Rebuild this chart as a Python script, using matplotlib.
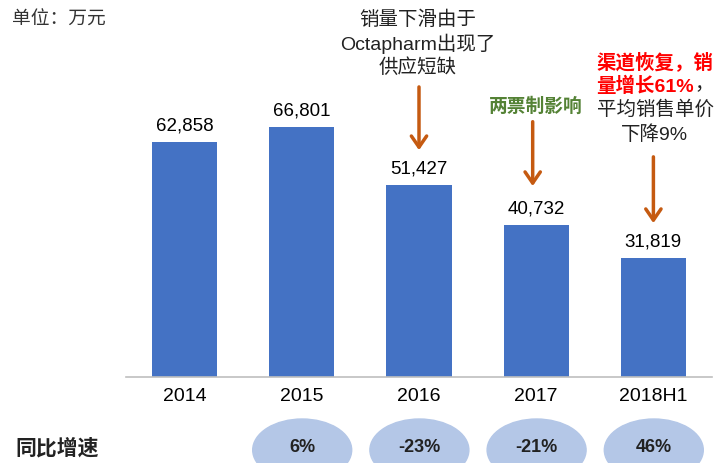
import matplotlib.pyplot as plt
from matplotlib.patches import Ellipse

plt.rcParams['font.family'] = ['Liberation Sans', 'Noto Sans CJK SC']

years = ["2014", "2015", "2016", "2017", "2018H1"]
sales = [62858, 66801, 51427, 40732, 31819]
growth = ["", "6%", "-23%", "-21%", "46%"]

W, H = 718, 464
fig = plt.figure(figsize=(W / 100, H / 100), dpi=100)
ax = fig.add_axes([126 / W, (H - 378) / H, 586 / W, 378 / H])

x = range(len(years))
ax.bar(x, sales, width=0.555, color="#4472c4")
for i, v in enumerate(sales):
    ax.text(i, v + 2200, f"{v:,}", ha="center", va="bottom", fontsize=13.5)

ax.set_xlim(-0.5, 4.5)
ax.set_ylim(0, 101070)
ax.set_xticks(list(x))
ax.set_xticklabels(years, fontsize=14)
ax.tick_params(axis="x", length=0, pad=7)
ax.set_yticks([])
for s in ["top", "left", "right"]:
    ax.spines[s].set_visible(False)
ax.spines["bottom"].set_color("#bfbfbf")
ax.spines["bottom"].set_linewidth(1.2)

# arrows (start value, end value)
arrow_color = "#c55a11"
arrows = [(2, 78300, 59900), (3.97, 69000, 50300), (4, 59600, 40400)]
arrows[1] = (2.97, 69000, 50300)
for xi, y0, y1 in arrows:
    ax.annotate("", xy=(xi, y1), xytext=(xi, y0),
                arrowprops=dict(arrowstyle="->,head_length=0.8,head_width=0.55",
                                color=arrow_color, lw=2.5))

def fx(px):
    return px / W

def fy(py):
    return 1 - py / H

dark = "#222222"
fig.text(fx(12), fy(20), "单位：万元", fontsize=13.5, color="#333333", va="center")

note1 = ["销量下滑由于", "Octapharm出现了", "供应短缺"]
for k, line in enumerate(note1):
    fig.text(fx(418), fy(20 + 24 * k), line, ha="center", va="center",
             fontsize=14, color=dark)

fig.text(fx(536), fy(107), "两票制影响", ha="center", va="center",
         fontsize=13.5, color="#548235", fontweight="bold")

fig.text(fx(655), fy(62), "渠道恢复，销", ha="center", va="center",
         fontsize=14, color="#ff0000", fontweight="bold")
fig.text(fx(694), fy(86), "量增长61%", ha="right", va="center",
         fontsize=14, color="#ff0000", fontweight="bold")
fig.text(fx(694), fy(86), "，", ha="left", va="center",
         fontsize=14, color=dark)
fig.text(fx(655), fy(110), "平均销售单价", ha="center", va="center",
         fontsize=14, color=dark)
fig.text(fx(655), fy(135), "下降9%", ha="center", va="center",
         fontsize=14, color=dark)

# growth row
fig.text(fx(15), fy(448), "同比增速", fontsize=15, fontweight="bold",
         va="center", color=dark)
for i, g in enumerate(growth):
    if not g:
        continue
    cx = 185 + i * 117.2
    e = Ellipse((fx(cx), fy(451)), width=fx(99), height=62 / H,
                transform=fig.transFigure, color="#b4c7e7", zorder=0)
    fig.patches.append(e)
    fig.text(fx(cx), fy(448), g, ha="center", va="center",
             fontsize=13, fontweight="bold", color=dark)

plt.savefig("out.png", dpi=100)
